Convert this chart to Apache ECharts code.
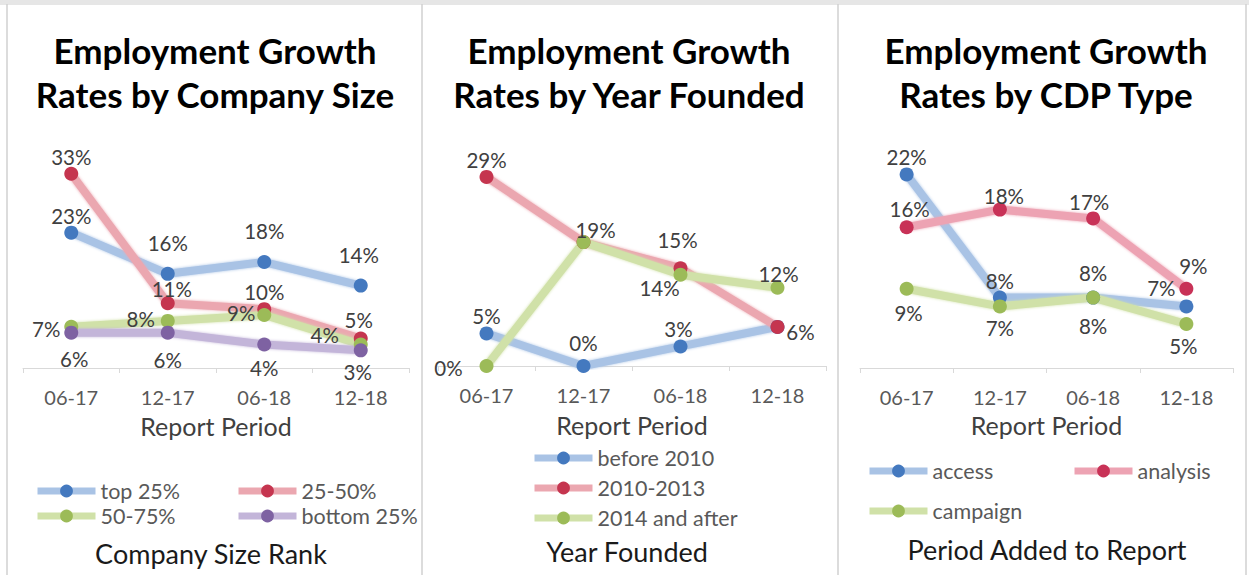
<!DOCTYPE html>
<html>
<head>
<meta charset="utf-8">
<title>Employment Growth Rates</title>
<script src="https://cdn.jsdelivr.net/npm/echarts@6/dist/echarts.min.js"></script>
<style>
  html, body { margin: 0; padding: 0; background: #ffffff; }
  #chart { width: 1249px; height: 575px; }
</style>
</head>
<body>
<div id="chart"></div>
<script>
// Report periods shared by all three panels
const periods = ['06-17', '12-17', '06-18', '12-18'];

// Panel 1: growth by company size rank
const sizeTop25 = [0.23, 0.16, 0.18, 0.14];
const size25to50 = [0.33, 0.11, 0.10, 0.05];
const size50to75 = [0.07, 0.08, 0.09, 0.04];
const sizeBottom25 = [0.06, 0.06, 0.04, 0.03];

// Panel 2: growth by year founded
const foundedBefore2010 = [0.05, 0.00, 0.03, 0.06];
const founded2010to2013 = [0.29, 0.19, 0.15, 0.06];
const founded2014on = [0.00, 0.19, 0.14, 0.12];

// Panel 3: growth by CDP type
const cdpAccess = [0.22, 0.08, 0.08, 0.07];
const cdpAnalysis = [0.16, 0.18, 0.17, 0.09];
const cdpCampaign = [0.09, 0.07, 0.08, 0.05];

const FONT = 'Lato, "Open Sans", "DejaVu Sans", sans-serif';
const TEXT_DARK = '#404040';
const TEXT_GRAY = '#595959';

const colors = {
  blue:   { line: '#a9c3e5', mark: '#4479bf' },
  red:    { line: '#eba7b0', mark: '#c5354f' },
  green:  { line: '#d0e1a8', mark: '#9cbb58' },
  purple: { line: '#c3b5d9', mark: '#7e62a2' }
};

// Panel frames: plot rectangles and y-axis ranges
const panels = [
  { grid: { left: 23,  top: 162,   width: 386, height: 206 },   max: 0.35, cx: 215,
    title: ['Employment Growth', 'Rates by Company Size'], caption: 'Company Size Rank', captionX: 211, captionY: 553, nameGap: 45 },
  { grid: { left: 438, top: 170.4, width: 388, height: 195.6 }, max: 0.30, cx: 629,
    title: ['Employment Growth', 'Rates by Year Founded'], caption: 'Year Founded', captionX: 627, captionY: 551, nameGap: 46 },
  { grid: { left: 860, top: 148,   width: 373, height: 220 },   max: 0.25, cx: 1046,
    title: ['Employment Growth', 'Rates by CDP Type'], caption: 'Period Added to Report', captionX: 1047, captionY: 549, nameGap: 44 }
];

// Label offsets (px from marker centre); null hides the label
const seriesDefs = [
  { panel: 0, name: 'top 25%',     values: sizeTop25,    color: colors.blue,
    offsets: [[0, -17], [0, -31], [0, -31], [-2, -31]], legend: [34, 488] },
  { panel: 0, name: '25-50%',      values: size25to50,   color: colors.red,
    offsets: [[0, -17], [4, -14], [0, -17], [-2, -19]], legend: [235, 488] },
  { panel: 0, name: '50-75%',      values: size50to75,   color: colors.green,
    offsets: [[-25, 2], [-27, -2], [-23, -2], [-36, -9]], legend: [34, 513] },
  { panel: 0, name: 'bottom 25%',  values: sizeBottom25, color: colors.purple,
    offsets: [[3, 26], [0, 27], [0, 24], [-3, 22]], legend: [235, 513] },

  { panel: 1, name: 'before 2010',    values: foundedBefore2010, color: colors.blue,
    offsets: [[0, -17], [0, -23], [-2, -17], null], legend: [531, 455] },
  { panel: 1, name: '2010-2013',      values: founded2010to2013, color: colors.red,
    offsets: [[0, -17], null, [-3, -28], [23, 5]], legend: [531, 485] },
  { panel: 1, name: '2014 and after', values: founded2014on,     color: colors.green,
    offsets: [[-38, 2], [12, -12], [-21, 13], [1, -14]], legend: [531, 515] },

  { panel: 2, name: 'access',   values: cdpAccess,   color: colors.blue,
    offsets: [[0, -17], [0, -17], [0, -25], [-25, -18]], legend: [866, 468] },
  { panel: 2, name: 'analysis', values: cdpAnalysis, color: { line: '#eda3b3', mark: '#c83257' },
    offsets: [[3, -18], [4, -14], [-4, -16], [7, -23]], legend: [1071, 468] },
  { panel: 2, name: 'campaign', values: cdpCampaign, color: colors.green,
    offsets: [[2, 24], [0, 22], [0, 28], [-3, 22]], legend: [866, 508] }
];

const pct = v => Math.round(v * 100) + '%';

const grids = panels.map(p => Object.assign({ containLabel: false }, p.grid));

const xAxes = panels.map((p, i) => ({
  type: 'category',
  gridIndex: i,
  data: periods,
  boundaryGap: true,
  axisLine: { show: true, lineStyle: { color: '#d9d9d9', width: 1 } },
  axisTick: { show: true, length: 5, lineStyle: { color: '#d9d9d9' } },
  axisLabel: { color: TEXT_GRAY, fontSize: 20, fontFamily: FONT, margin: 19 },
  splitLine: { show: false },
  name: 'Report Period',
  nameLocation: 'middle',
  nameGap: p.nameGap,
  nameTextStyle: { color: TEXT_DARK, fontSize: 25, fontFamily: FONT }
}));

const yAxes = panels.map((p, i) => ({
  type: 'value',
  gridIndex: i,
  min: 0,
  max: p.max,
  show: false,
  splitLine: { show: false }
}));

const series = seriesDefs.map(d => ({
  type: 'line',
  name: d.name,
  xAxisIndex: d.panel,
  yAxisIndex: d.panel,
  symbol: 'circle',
  symbolSize: 14,
  lineStyle: { width: 8, color: d.color.line, shadowColor: d.color.line, shadowBlur: 3 },
  itemStyle: { color: d.color.mark },
  emphasis: { disabled: true },
  silent: true,
  label: {
    show: true,
    position: 'inside',
    formatter: p => pct(p.value),
    color: TEXT_DARK,
    fontSize: 20.5,
    fontFamily: FONT
  },
  data: d.values.map((v, i) => {
    const off = d.offsets[i];
    return off ? { value: v, label: { show: true, offset: off } }
               : { value: v, label: { show: false } };
  })
}));

const legends = seriesDefs.map(d => ({
  data: [d.name],
  left: d.legend[0],
  top: d.legend[1] - 8,
  padding: 0,
  itemWidth: 58,
  itemHeight: 16,
  itemGap: 0,
  selectedMode: false,
  lineStyle: { width: 7 },
  textStyle: { color: TEXT_GRAY, fontSize: 21.5, fontFamily: FONT }
}));

// Titles, captions and panel frames
const graphics = [
  { type: 'rect', shape: { x: 0, y: 0, width: 1249, height: 5 }, style: { fill: '#e6e6e6' }, silent: true }
];
[7, 422, 838, 1246].forEach(x => {
  graphics.push({ type: 'line', shape: { x1: x, y1: 4, x2: x, y2: 575 },
    style: { stroke: '#d0d0d0', lineWidth: 1.5 }, silent: true });
});
panels.forEach(p => {
  p.title.forEach((line, k) => {
    graphics.push({ type: 'text', x: p.cx, y: 50 + k * 44, silent: true,
      style: { text: line, align: 'center', verticalAlign: 'middle', fill: '#000000',
               fontSize: 35, fontWeight: 'bold', fontFamily: FONT } });
  });
  graphics.push({ type: 'text', x: p.captionX, y: p.captionY, silent: true,
    style: { text: p.caption, align: 'center', verticalAlign: 'middle', fill: '#1a1a1a',
             fontSize: 27, fontFamily: FONT } });
});

const chart = echarts.init(document.getElementById('chart'), null, { renderer: 'svg' });
chart.setOption({
  animation: false,
  backgroundColor: '#ffffff',
  grid: grids,
  xAxis: xAxes,
  yAxis: yAxes,
  legend: legends,
  series: series,
  graphic: graphics
});
</script>
</body>
</html>
